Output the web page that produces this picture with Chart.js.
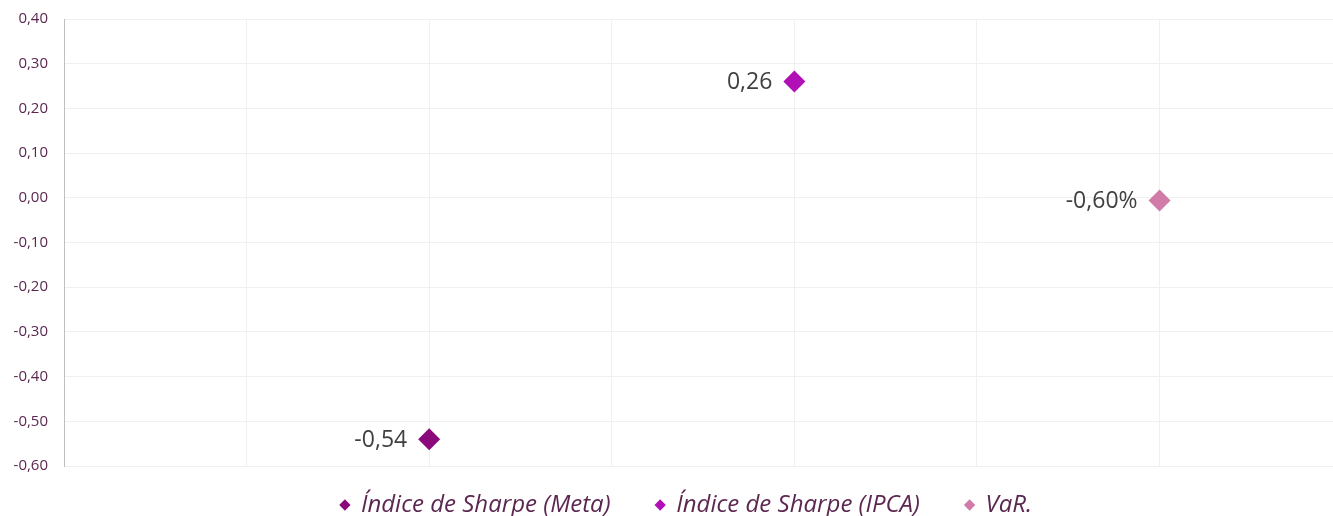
<!DOCTYPE html>
<html>
<head>
<meta charset="utf-8">
<script src="https://cdn.jsdelivr.net/npm/chart.js@4"></script>
<style>
  html, body { margin: 0; padding: 0; background: #fff; overflow: hidden; }
  canvas { display: block; }
</style>
</head>
<body>
<canvas id="riskChart" width="1333" height="516"></canvas>
<script>
// séries (x = posição no eixo, y = valor)
const seriesNames = ['Índice de Sharpe (Meta)', 'Índice de Sharpe (IPCA)', 'VaR.'];
const xPositions = [2, 4, 6];
const yValues = [-0.54, 0.26, -0.006];
const pointLabels = ['-0,54', '0,26', '-0,60%'];
const seriesColors = ['#8a0a7c', '#b010b6', '#d07ba8'];
const yTicks = [0.4, 0.3, 0.2, 0.1, 0, -0.1, -0.2, -0.3, -0.4, -0.5, -0.6];
const xGrid = [1, 2, 3, 4, 5, 6];

const fmt = v => v.toFixed(2).replace('.', ',');

// rótulos ao lado esquerdo dos pontos
const labelPlugin = {
    id: 'pointLabels',
    afterLayout(chart) {
        // legenda levemente deslocada para a direita, como no original
        chart.legend.left += 20;
        chart.legend.right += 20;
    },
    afterDatasetsDraw(chart) {
        const ctx = chart.ctx;
        ctx.save();
        ctx.font = '23px "Open Sans"';
        ctx.fillStyle = '#404040';
        ctx.textAlign = 'right';
        ctx.textBaseline = 'middle';
        chart.data.datasets.forEach((ds, i) => {
            const pt = chart.getDatasetMeta(i).data[0];
            ctx.fillText(pointLabels[i], pt.x - 22, pt.y + 1);
        });
        ctx.restore();
    }
};

new Chart(document.getElementById('riskChart'), {
    type: 'scatter',
    data: {
        datasets: seriesNames.map((name, i) => ({
            label: name,
            data: [{x: xPositions[i], y: yValues[i]}],
            pointStyle: 'rectRot',
            pointRadius: 11,
            pointHoverRadius: 11,
            backgroundColor: seriesColors[i],
            borderColor: seriesColors[i],
            borderWidth: 0,
            clip: false
        }))
    },
    options: {
        responsive: false,
        animation: false,
        layout: { autoPadding: false, padding: { top: 19, right: 0, bottom: -11, left: 0 } },
        scales: {
            x: {
                type: 'linear',
                min: 0,
                max: 6.95,
                afterBuildTicks: s => { s.ticks = xGrid.map(v => ({value: v})); },
                afterFit: s => { s.height = 0; },
                ticks: { display: false },
                grid: { color: '#f0f0f0', drawTicks: false },
                border: { display: false }
            },
            y: {
                min: -0.6,
                max: 0.4,
                afterBuildTicks: s => { s.ticks = yTicks.map(v => ({value: v})); },
                afterFit: s => { s.width = 64; s.paddingTop = 0; s.paddingBottom = 0; },
                ticks: {
                    padding: 16,
                    color: '#5b2750',
                    font: { family: 'Open Sans', size: 15 },
                    callback: v => fmt(v)
                },
                grid: { color: '#f0f0f0', drawTicks: false },
                border: { color: '#bfbfbf', width: 1 }
            }
        },
        plugins: {
            tooltip: { enabled: false },
            legend: {
                position: 'bottom',
                labels: {
                    usePointStyle: true,
                    boxWidth: 8,
                    boxHeight: 8,
                    padding: 27,
                    color: '#5b2750',
                    font: { family: 'Open Sans', size: 24, style: 'italic' },
                    generateLabels(chart) {
                        return chart.data.datasets.map((ds, i) => ({
                            text: i < seriesNames.length - 1 ? ds.label + '   ' : ds.label,
                            fillStyle: ds.backgroundColor,
                            strokeStyle: ds.backgroundColor,
                            lineWidth: 0,
                            pointStyle: 'rectRot',
                            fontColor: '#5b2750',
                            datasetIndex: i,
                            hidden: false
                        }));
                    }
                }
            }
        }
    },
    plugins: [labelPlugin]
});
</script>
</body>
</html>
